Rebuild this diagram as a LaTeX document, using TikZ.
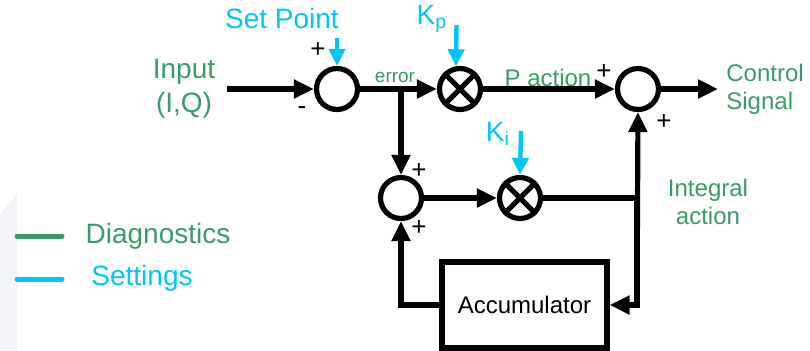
\documentclass[tikz,border=0pt]{standalone}
\usepackage{fontspec}
\setmainfont{Liberation Sans}
\usetikzlibrary{arrows.meta,calc}
\definecolor{diag}{HTML}{3A9A68}
\definecolor{sett}{HTML}{00C6F6}
\definecolor{bgshade}{HTML}{F2F3F6}
\begin{document}
\begin{tikzpicture}[x=0.5pt,y=-0.5pt,
  sig/.style={line width=2.6pt,-{Triangle[length=10pt,width=9pt]}},
  wire/.style={line width=2.6pt},
  setarrow/.style={line width=2.2pt,color=sett,-{Triangle[length=8.5pt,width=8pt]}},
  sumnode/.style={circle,draw,line width=2.6pt,minimum size=20.5pt,inner sep=0pt},
  greentext/.style={text=diag,font=\fontsize{12}{14}\selectfont,inner sep=0pt},
  bluetext/.style={text=sett,font=\fontsize{14}{16}\selectfont,inner sep=0pt},
  sign/.style={font=\fontsize{13}{15}\selectfont,inner sep=0pt},
  blockbox/.style={draw,line width=2.6pt,minimum width=82.5pt,minimum height=43pt,inner sep=0pt,font=\fontsize{12}{14}\selectfont}]
\useasboundingbox (0,0) rectangle (810,350);
% faint background shade at left
\fill[bgshade] (0,215) -- (17,193) -- (17,350) -- (0,350) -- cycle;

% nodes
\node[sumnode] (s1) at (337,89) {};
\node[sumnode] (kp) at (460,89) {};
\draw[wire] (kp.north west) -- (kp.south east) (kp.north east) -- (kp.south west);
\node[sumnode] (s3) at (638,89) {};
\node[sumnode] (s2) at (401,198) {};
\node[sumnode] (ki) at (520,198) {};
\draw[wire] (ki.north west) -- (ki.south east) (ki.north east) -- (ki.south west);
\node[blockbox] (acc) at (524.5,305) {Accumulator};

% texts
\node[greentext,align=center,font=\fontsize{14}{17}\selectfont] (inp) at (184,89) {Input\\(I,Q)};
\node[bluetext] (sp) at (282,18) {Set Point};
\node[bluetext] (kpl) at (432,19) {K\textsubscript{p}};
\node[bluetext] (kil) at (498,134) {K\textsubscript{i}};
\node[greentext,font=\fontsize{9.5}{11}\selectfont] (err) at (395,77) {error};
\node[greentext] (pact) at (548,78) {P action};
\node[greentext,align=left,anchor=west] (ctl) at (726,89) {Control\\Signal};
\node[greentext,align=center] (iact) at (708,202) {Integral\\action};
\node[sign] (p1) at (318,50) {+};
\node[sign] (m1) at (302,111) {-};
\node[sign] (p3a) at (604,72) {+};
\node[sign] (p3b) at (664,122) {+};
\node[sign] (p2a) at (419,171) {+};
\node[sign] (p2b) at (419,228) {+};

% coordinates
\coordinate (inS) at (227,89);
\coordinate (spS) at (337,38);
\coordinate (kpS) at (456.5,25);
\coordinate (kiS) at (521,131);
\coordinate (br) at (401,89);
\coordinate (jn) at (637,198);
\coordinate (outE) at (718,89);

% connectors
\draw[sig] (inS) -- (s1.west);
\draw[setarrow] (spS) -- (s1.north);
\draw[setarrow] (kpS) -- (kp.100);
\draw[setarrow] (kiS) -- (ki.north);
\draw[sig] (s1.east) -- (kp.west);
\draw[sig] (br) -- (s2.north);
\draw[sig] (kp.east) -- (s3.west);
\draw[sig] (s3.east) -- (outE);
\draw[sig] (s2.east) -- (ki.west);
\draw[wire] (ki.east) -- (jn);
\draw[sig] (jn |- acc) -- (s3.south);
\draw[sig] (jn) -- (jn |- acc) -- (acc.east);
\draw[sig] (acc.west) -| (s2.south);

% legend
\draw[line width=2.5pt,diag,line cap=round] (17,236) -- (62,236);
\draw[line width=2.5pt,sett,line cap=round] (17,279) -- (62,279);
\node[text=diag,font=\fontsize{14}{16}\selectfont,inner sep=0pt] (dg) at (158,236) {Diagnostics};
\node[bluetext] (st) at (142,278) {Settings};
\end{tikzpicture}
\end{document}
